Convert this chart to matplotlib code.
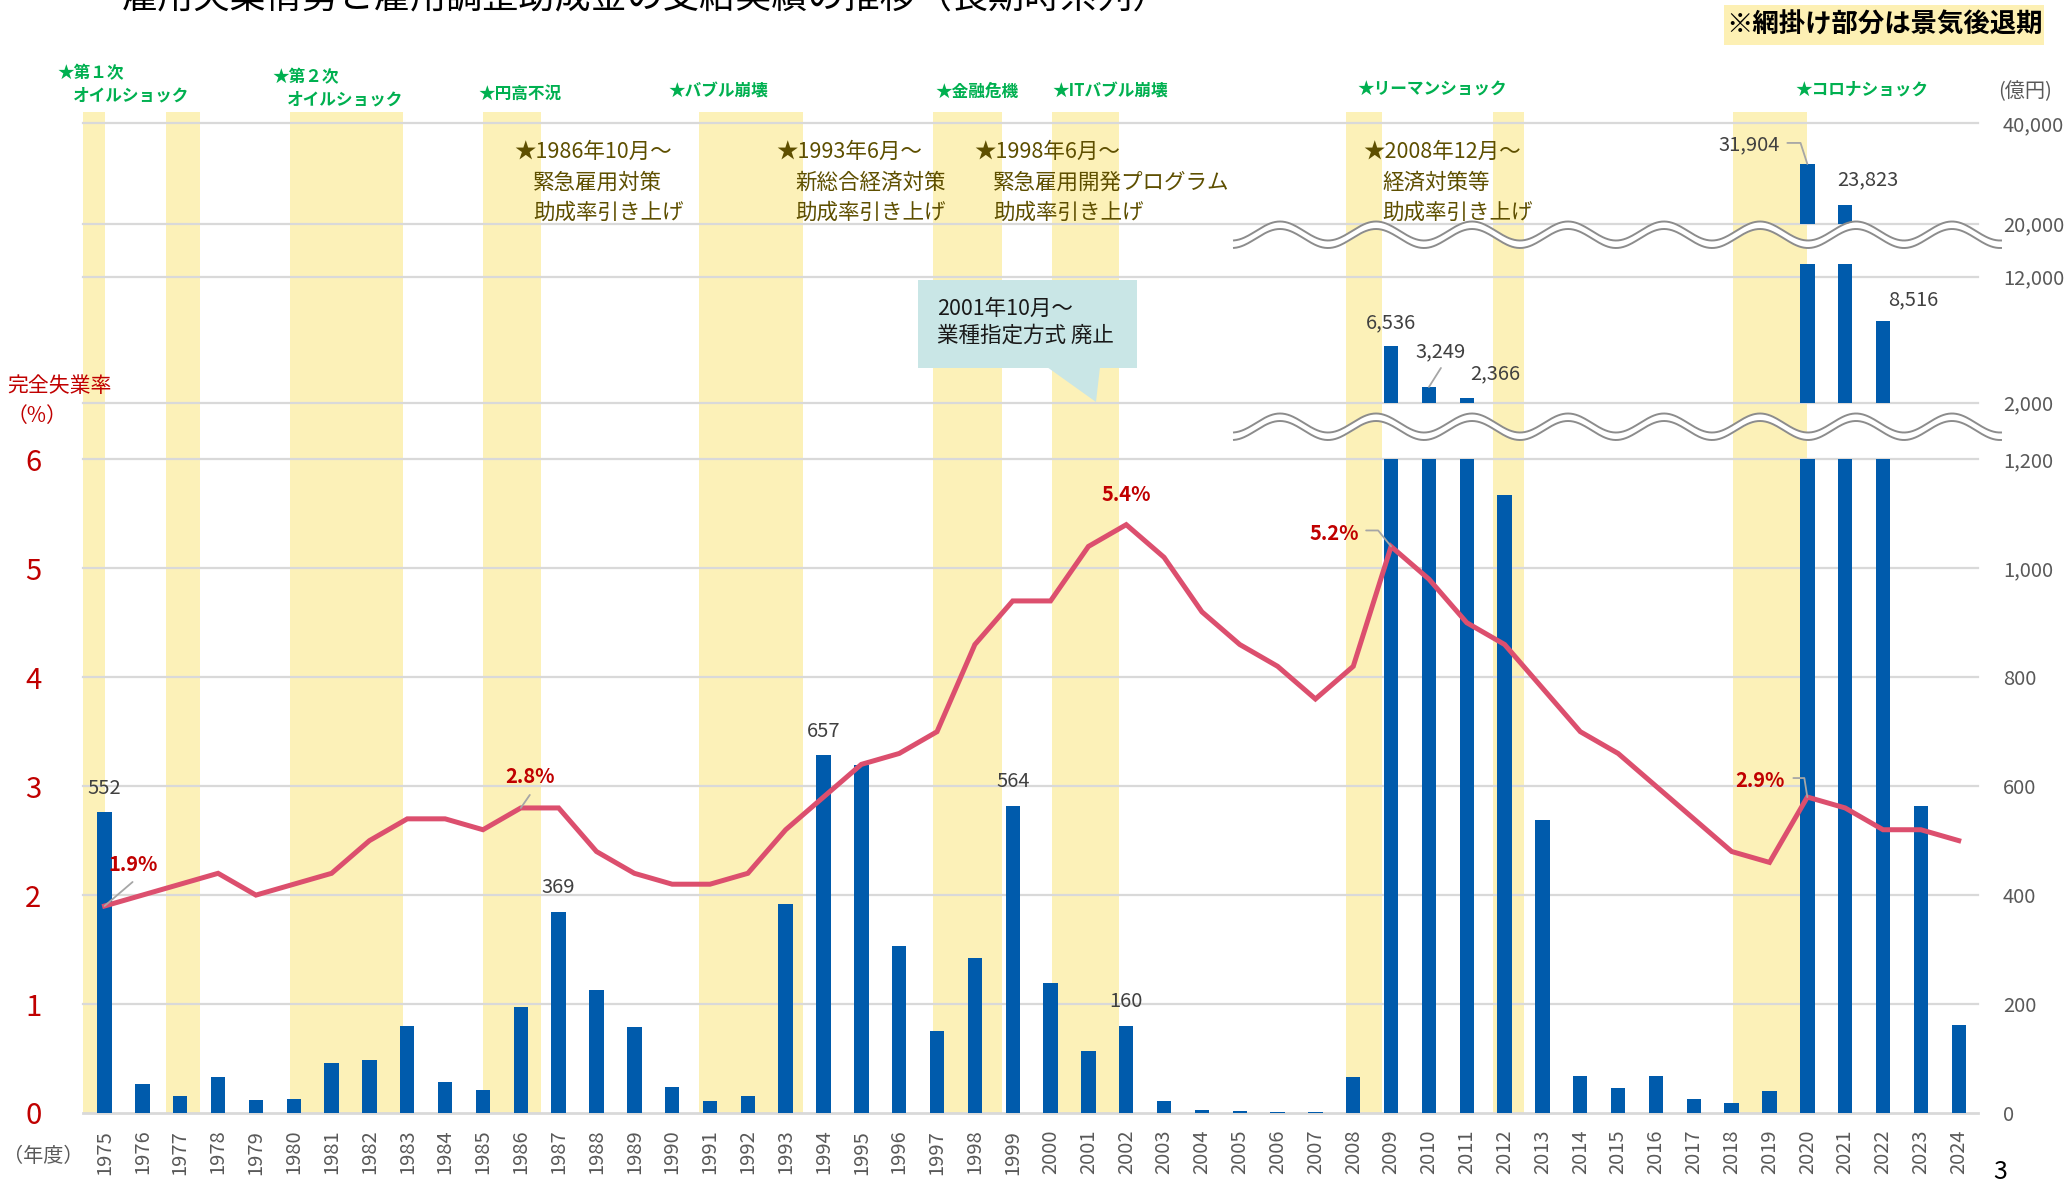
import matplotlib
matplotlib.use('Agg')
import matplotlib.pyplot as plt
import numpy as np
from matplotlib.patches import Rectangle, Polygon

plt.rcParams['font.family'] = ['Noto Sans CJK JP', 'DejaVu Sans']

# ---- data ----
years = list(range(1975, 2025))
# 雇用調整助成金 支給実績（億円）
subsidy = [552, 53, 32, 67, 23, 26, 92, 97, 160, 57,
           42, 194, 369, 226, 157, 48, 22, 32, 383, 657,
           639, 306, 150, 285, 564, 238, 114, 160, 22, 6,
           4, 2, 1, 66, 6536, 3249, 2366, 1134, 538, 68,
           45, 68, 25, 18, 40, 31904, 23823, 8516, 563, 162]
# 完全失業率（%）
unemp = [1.9, 2.0, 2.1, 2.2, 2.0, 2.1, 2.2, 2.5, 2.7, 2.7,
         2.6, 2.8, 2.8, 2.4, 2.2, 2.1, 2.1, 2.2, 2.6, 2.9,
         3.2, 3.3, 3.5, 4.3, 4.7, 4.7, 5.2, 5.4, 5.1, 4.6,
         4.3, 4.1, 3.8, 4.1, 5.2, 4.9, 4.5, 4.3, 3.9, 3.5,
         3.3, 3.0, 2.7, 2.4, 2.3, 2.9, 2.8, 2.6, 2.6, 2.5]
# 景気後退期（年度軸上の範囲）
recessions = [(1974.42, 1975.0), (1976.63, 1977.52), (1979.90, 1982.89),
              (1985.00, 1986.53), (1990.71, 1993.46), (1996.89, 1998.71),
              (2000.04, 2001.81), (2007.81, 2008.77), (2011.69, 2012.51),
              (2018.03, 2020.0)]
bot_ticks = [0, 200, 400, 600, 800, 1000, 1200]
mid_ticks = [2000, 12000]
top_ticks = [20000, 40000]
rate_ticks = [0, 1, 2, 3, 4, 5, 6]

# value labels: (year, value, dx, dy) offsets in pixels
bar_labels = [(1975, 552, 0, 24), (1987, 369, 0, 24), (1994, 657, 0, 24),
              (1999, 564, 0, 24), (2002, 160, 0, 24)]
mid_labels = [(2009, 6536, 0, 23), (2010, 3249, 12, 35), (2011, 2366, 28, 24),
              (2022, 8516, 30, 21)]
top_labels = [(2020, 31904, -58, 19), (2021, 23823, 23, 25)]

W, H = 2065, 1187
BLUE = '#005bac'
LINE = '#dc4f6e'
RED = '#c00000'
GRID = '#d9d9d9'
SHADE = '#fcf1b8'
GRAYTXT = '#404040'
OLIVE = '#5e4f00'
GREEN = '#00b050'

fig = plt.figure(figsize=(W / 100, H / 100), dpi=100)


def rect(x0, y_top, x1, y_bot):
    return [x0 / W, 1 - y_bot / H, (x1 - x0) / W, (y_bot - y_top) / H]


X0, X1 = 83, 1978
xlim = (1974.43, 2024.51)

# background shading
bg = fig.add_axes(rect(X0, 112, X1, 1113), zorder=0)
bg.set_xlim(xlim)
bg.set_ylim(0, 1)
bg.axis('off')
for a, b in recessions:
    bg.axvspan(a, b, color=SHADE, lw=0)

ax_bot = fig.add_axes(rect(X0, 459.3, X1, 1113), zorder=1)
ax_mid = fig.add_axes(rect(X0, 264, X1, 402.7), zorder=1)
ax_top = fig.add_axes(rect(X0, 123.3, X1, 223.7), zorder=1)

# unemployment rate axis (left), created first so the right labels stay put
ax_rate = ax_bot.twinx()

for ax, lo, hi, ticks in [(ax_bot, 0, 1200, bot_ticks),
                          (ax_mid, 2000, 13000, mid_ticks),
                          (ax_top, 20000, 40000, top_ticks)]:
    ax.patch.set_alpha(0)
    ax.set_xlim(xlim)
    ax.set_ylim(lo, hi)
    for s in ax.spines.values():
        s.set_visible(False)
    for t in ticks:
        ax.axhline(t, color=GRID, lw=2.0 if t == 0 else 1.6, zorder=0.5, clip_on=False)
    ax.bar(years, subsidy, width=0.38, color=BLUE, zorder=2)
    ax.yaxis.tick_right()
    ax.set_yticks(ticks)
    ax.set_yticklabels([f'{t:,}' for t in ticks])
    ax.tick_params(axis='y', length=0, pad=18, labelsize=14.5, labelcolor='#595959',
                   left=False, labelleft=False, right=False, labelright=True)
    ax.set_xticks([])

ax_bot.set_xticks(years)
ax_bot.set_xticklabels([str(y) for y in years], rotation=90)
ax_bot.tick_params(axis='x', length=0, pad=12, labelsize=14.5, labelcolor='#595959')

ax_rate.set_zorder(2)
ax_rate.patch.set_alpha(0)
ax_rate.set_ylim(0, 6)
ax_rate.set_xlim(xlim)
for s in ax_rate.spines.values():
    s.set_visible(False)
ax_rate.plot(years, unemp, color=LINE, lw=3.6, solid_joinstyle='miter', zorder=3)
ax_rate.set_yticks(rate_ticks)
ax_rate.tick_params(axis='y', length=0, pad=30, labelsize=21, labelcolor=RED,
                    left=False, labelleft=True, right=False, labelright=False)

# value labels
for ax, labels in [(ax_bot, bar_labels), (ax_mid, mid_labels), (ax_top, top_labels)]:
    for yr, v, dx, dy in labels:
        ax.annotate(f'{v:,}', (yr, v), xytext=(dx, dy), textcoords='offset pixels',
                    ha='center', va='center', fontsize=14.5, color=GRAYTXT,
                    zorder=5, annotation_clip=False)

lead = dict(arrowstyle='-', color='#a6a6a6', lw=1.3, shrinkA=0, shrinkB=0)
ax_mid.annotate('', (2010, 3249), xytext=(12, 19), textcoords='offset pixels',
                arrowprops=lead, annotation_clip=False)
ax_top.annotate('', (2020, 31904), xytext=(-20, 21), textcoords='offset pixels',
                arrowprops=dict(lead, connectionstyle='angle,angleA=0,angleB=-72,rad=0'),
                annotation_clip=False)

# rate labels
rate_labels = [(1975, 28, 41), (1986, 9, 31), (2002, 0, 30), (2009, -57, 13), (2020, -47, 17)]
for yr, dx, dy in rate_labels:
    v = unemp[years.index(yr)]
    ax_rate.annotate(f'{v}%', (yr, v), xytext=(dx, dy), textcoords='offset pixels',
                     ha='center', va='center', fontsize=14.5, color=RED,
                     fontweight='bold', zorder=5)
ax_rate.annotate('', (1975, 1.9), xytext=(28, 24), textcoords='offset pixels', arrowprops=lead)
ax_rate.annotate('', (1986, 2.8), xytext=(9, 13), textcoords='offset pixels', arrowprops=lead)
ax_rate.annotate('', (2009, 5.2), xytext=(-25, 16), textcoords='offset pixels',
                 arrowprops=dict(lead, connectionstyle='angle,angleA=0,angleB=-51,rad=0'))
ax_rate.annotate('', (2020, 2.9), xytext=(-14, 19), textcoords='offset pixels',
                 arrowprops=dict(lead, connectionstyle='angle,angleA=0,angleB=-81,rad=0'))

# overlay in pixel coordinates for decorations and texts
ov = fig.add_axes([0, 0, 1, 1], zorder=10)
ov.set_xlim(0, W)
ov.set_ylim(H, 0)
ov.axis('off')
ov.patch.set_alpha(0)

# broken-axis waves
xw = np.linspace(1234, 2001, 600)
for c in (231, 423):
    y1 = c - 9.5 * np.cos(2 * np.pi * (xw - 1280) / 96)
    y2 = y1 + 7.5
    ov.fill_between(xw, y1, y2, color='white', lw=0)
    ov.plot(xw, y1, color='#8c8c8c', lw=1.4)
    ov.plot(xw, y2, color='#8c8c8c', lw=1.4)

# callout
ov.add_patch(Rectangle((918, 280), 219, 88, color='#c9e6e6', lw=0))
ov.add_patch(Polygon([(1047, 367), (1100, 367), (1096, 402)], closed=True,
                     color='#c9e6e6', lw=0))
ov.text(937, 309, '2001年10月～', fontsize=15.5, color='#1a1a1a', va='center')
ov.text(937, 336, '業種指定方式 廃止', fontsize=15.5, color='#1a1a1a', va='center')

# legend note
ov.add_patch(Rectangle((1724, 5), 320, 40, color='#fdf0b4', lw=0))
ov.text(1884, 25, '※網掛け部分は景気後退期', fontsize=19, fontweight='bold',
        color='black', ha='center', va='center')

# event labels
events = [('★第１次', 57, 73), ('オイルショック', 73, 95),
          ('★第２次', 272, 77), ('オイルショック', 287, 99),
          ('★円高不況', 478, 94), ('★バブル崩壊', 668, 92),
          ('★金融危機', 935, 92), ('★ITバブル崩壊', 1052, 92),
          ('★リーマンショック', 1357, 89), ('★コロナショック', 1795, 89)]
for s, x, y in events:
    ov.text(x, y, s, fontsize=12, fontweight='bold', color=GREEN, va='center')

policies = [('★1986年10月～', '緊急雇用対策', 514),
            ('★1993年6月～', '新総合経済対策', 776),
            ('★1998年6月～', '緊急雇用開発プログラム', 974),
            ('★2008年12月～', '経済対策等', 1363)]
for head, body, x in policies:
    ov.text(x, 152, head, fontsize=15.5, color=OLIVE, va='center')
    ov.text(x + 19, 183, body, fontsize=15.5, color=OLIVE, va='center')
    ov.text(x + 19, 213, '助成率引き上げ', fontsize=15.5, color=OLIVE, va='center')

ov.text(2025, 92, '(億円)', fontsize=14.5, color='#595959', ha='center', va='center')
ov.text(60, 386, '完全失業率', fontsize=15, color=RED, ha='center', va='center')
ov.text(37, 416, '（%）', fontsize=15, color=RED, ha='center', va='center')
ov.text(43, 1157, '（年度）', fontsize=14.5, color='#595959', ha='center', va='center')
ov.text(2000, 1172, '3', fontsize=18, color='black', ha='center', va='center')
ov.text(122, 9, '雇用失業情勢と雇用調整助成金の支給実績の推移（長期時系列）',
        fontsize=26, color='black', ha='left', va='baseline')

fig.savefig('out.png', dpi=100)
